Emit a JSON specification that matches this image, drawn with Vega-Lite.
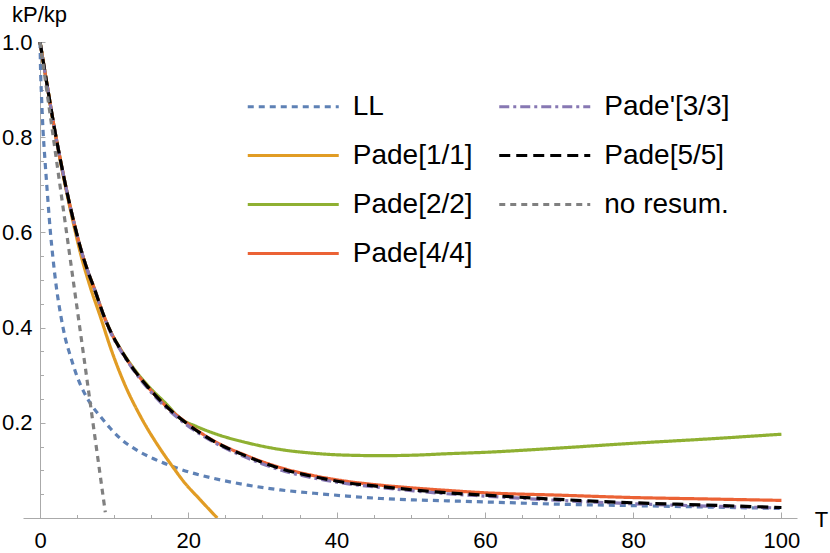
{
  "$schema": "https://vega.github.io/schema/vega-lite/v6.json",
  "width": 774,
  "height": 476,
  "autosize": {"type": "none"},
  "padding": {"left": 23, "top": 42, "right": 33, "bottom": 35},
  "background": "white",
  "data": {
    "values": [
      {"series": "LL", "T": 0, "v": 1},
      {"series": "LL", "T": 0.05, "v": 0.955},
      {"series": "LL", "T": 0.2, "v": 0.885},
      {"series": "LL", "T": 0.4, "v": 0.815},
      {"series": "LL", "T": 0.65, "v": 0.755},
      {"series": "LL", "T": 1.0, "v": 0.68},
      {"series": "LL", "T": 1.4, "v": 0.6},
      {"series": "LL", "T": 1.75, "v": 0.545},
      {"series": "LL", "T": 2.1, "v": 0.497},
      {"series": "LL", "T": 2.8, "v": 0.425},
      {"series": "LL", "T": 3.4, "v": 0.378},
      {"series": "LL", "T": 4.1, "v": 0.34},
      {"series": "LL", "T": 5.0, "v": 0.297},
      {"series": "LL", "T": 5.9, "v": 0.265},
      {"series": "LL", "T": 7.0, "v": 0.236},
      {"series": "LL", "T": 8.2, "v": 0.212},
      {"series": "LL", "T": 9.5, "v": 0.188},
      {"series": "LL", "T": 10.9, "v": 0.166},
      {"series": "LL", "T": 13, "v": 0.143},
      {"series": "LL", "T": 15.4, "v": 0.124},
      {"series": "LL", "T": 19, "v": 0.102},
      {"series": "LL", "T": 23.5, "v": 0.083},
      {"series": "LL", "T": 28, "v": 0.069},
      {"series": "LL", "T": 32.4, "v": 0.059},
      {"series": "LL", "T": 37, "v": 0.052},
      {"series": "LL", "T": 41.4, "v": 0.046},
      {"series": "LL", "T": 46, "v": 0.041},
      {"series": "LL", "T": 50.4, "v": 0.038},
      {"series": "LL", "T": 55, "v": 0.036},
      {"series": "LL", "T": 61.6, "v": 0.033},
      {"series": "LL", "T": 70, "v": 0.029},
      {"series": "LL", "T": 80, "v": 0.026},
      {"series": "LL", "T": 90, "v": 0.023},
      {"series": "LL", "T": 100, "v": 0.02},

      {"series": "Pade[1/1]", "T": 0, "v": 1},
      {"series": "Pade[1/1]", "T": 1, "v": 0.905},
      {"series": "Pade[1/1]", "T": 1.9, "v": 0.82},
      {"series": "Pade[1/1]", "T": 2.8, "v": 0.745},
      {"series": "Pade[1/1]", "T": 3.7, "v": 0.676},
      {"series": "Pade[1/1]", "T": 4.6, "v": 0.612},
      {"series": "Pade[1/1]", "T": 5.5, "v": 0.553},
      {"series": "Pade[1/1]", "T": 6.8, "v": 0.484},
      {"series": "Pade[1/1]", "T": 8.2, "v": 0.42},
      {"series": "Pade[1/1]", "T": 9.5, "v": 0.358},
      {"series": "Pade[1/1]", "T": 11.3, "v": 0.285},
      {"series": "Pade[1/1]", "T": 13.6, "v": 0.212},
      {"series": "Pade[1/1]", "T": 16.3, "v": 0.143},
      {"series": "Pade[1/1]", "T": 18.06, "v": 0.104},
      {"series": "Pade[1/1]", "T": 19.4, "v": 0.076},
      {"series": "Pade[1/1]", "T": 21.5, "v": 0.04},
      {"series": "Pade[1/1]", "T": 23.9, "v": 0.0},

      {"series": "Pade[2/2]", "T": 0, "v": 1},
      {"series": "Pade[2/2]", "T": 1, "v": 0.905},
      {"series": "Pade[2/2]", "T": 1.9, "v": 0.822},
      {"series": "Pade[2/2]", "T": 2.8, "v": 0.748},
      {"series": "Pade[2/2]", "T": 3.7, "v": 0.68},
      {"series": "Pade[2/2]", "T": 4.6, "v": 0.619},
      {"series": "Pade[2/2]", "T": 5.5, "v": 0.565},
      {"series": "Pade[2/2]", "T": 6.5, "v": 0.516},
      {"series": "Pade[2/2]", "T": 7.3, "v": 0.483},
      {"series": "Pade[2/2]", "T": 8.6, "v": 0.425},
      {"series": "Pade[2/2]", "T": 9.7, "v": 0.386},
      {"series": "Pade[2/2]", "T": 10.9, "v": 0.354},
      {"series": "Pade[2/2]", "T": 12.5, "v": 0.317},
      {"series": "Pade[2/2]", "T": 14.5, "v": 0.279},
      {"series": "Pade[2/2]", "T": 17, "v": 0.24},
      {"series": "Pade[2/2]", "T": 19, "v": 0.208},
      {"series": "Pade[2/2]", "T": 21, "v": 0.193},
      {"series": "Pade[2/2]", "T": 23.45, "v": 0.178},
      {"series": "Pade[2/2]", "T": 27.95, "v": 0.158},
      {"series": "Pade[2/2]", "T": 32.4, "v": 0.144},
      {"series": "Pade[2/2]", "T": 36.9, "v": 0.136},
      {"series": "Pade[2/2]", "T": 41.4, "v": 0.132},
      {"series": "Pade[2/2]", "T": 45.9, "v": 0.131},
      {"series": "Pade[2/2]", "T": 50.4, "v": 0.132},
      {"series": "Pade[2/2]", "T": 54.9, "v": 0.135},
      {"series": "Pade[2/2]", "T": 60, "v": 0.138},
      {"series": "Pade[2/2]", "T": 70, "v": 0.147},
      {"series": "Pade[2/2]", "T": 80, "v": 0.157},
      {"series": "Pade[2/2]", "T": 90, "v": 0.166},
      {"series": "Pade[2/2]", "T": 100, "v": 0.176},

      {"series": "Pade[4/4]", "T": 0, "v": 1},
      {"series": "Pade[4/4]", "T": 1, "v": 0.905},
      {"series": "Pade[4/4]", "T": 1.9, "v": 0.822},
      {"series": "Pade[4/4]", "T": 2.8, "v": 0.748},
      {"series": "Pade[4/4]", "T": 3.7, "v": 0.68},
      {"series": "Pade[4/4]", "T": 4.6, "v": 0.619},
      {"series": "Pade[4/4]", "T": 5.5, "v": 0.565},
      {"series": "Pade[4/4]", "T": 6.5, "v": 0.516},
      {"series": "Pade[4/4]", "T": 7.3, "v": 0.483},
      {"series": "Pade[4/4]", "T": 8.6, "v": 0.425},
      {"series": "Pade[4/4]", "T": 9.7, "v": 0.386},
      {"series": "Pade[4/4]", "T": 10.9, "v": 0.353},
      {"series": "Pade[4/4]", "T": 12.5, "v": 0.315},
      {"series": "Pade[4/4]", "T": 14.5, "v": 0.276},
      {"series": "Pade[4/4]", "T": 17, "v": 0.235},
      {"series": "Pade[4/4]", "T": 19.5, "v": 0.203},
      {"series": "Pade[4/4]", "T": 23.45, "v": 0.162},
      {"series": "Pade[4/4]", "T": 28, "v": 0.13},
      {"series": "Pade[4/4]", "T": 32.4, "v": 0.106},
      {"series": "Pade[4/4]", "T": 36.9, "v": 0.089},
      {"series": "Pade[4/4]", "T": 41.4, "v": 0.077},
      {"series": "Pade[4/4]", "T": 45.9, "v": 0.069},
      {"series": "Pade[4/4]", "T": 50.4, "v": 0.063},
      {"series": "Pade[4/4]", "T": 54.9, "v": 0.058},
      {"series": "Pade[4/4]", "T": 60, "v": 0.053},
      {"series": "Pade[4/4]", "T": 70, "v": 0.048},
      {"series": "Pade[4/4]", "T": 80, "v": 0.043},
      {"series": "Pade[4/4]", "T": 90, "v": 0.04},
      {"series": "Pade[4/4]", "T": 100, "v": 0.037},

      {"series": "Pade'[3/3]", "T": 0, "v": 1},
      {"series": "Pade'[3/3]", "T": 1, "v": 0.905},
      {"series": "Pade'[3/3]", "T": 1.9, "v": 0.822},
      {"series": "Pade'[3/3]", "T": 2.8, "v": 0.748},
      {"series": "Pade'[3/3]", "T": 3.7, "v": 0.68},
      {"series": "Pade'[3/3]", "T": 4.6, "v": 0.619},
      {"series": "Pade'[3/3]", "T": 5.5, "v": 0.565},
      {"series": "Pade'[3/3]", "T": 6.5, "v": 0.516},
      {"series": "Pade'[3/3]", "T": 7.3, "v": 0.483},
      {"series": "Pade'[3/3]", "T": 8.6, "v": 0.424},
      {"series": "Pade'[3/3]", "T": 9.7, "v": 0.384},
      {"series": "Pade'[3/3]", "T": 10.9, "v": 0.351},
      {"series": "Pade'[3/3]", "T": 12.5, "v": 0.313},
      {"series": "Pade'[3/3]", "T": 14.5, "v": 0.273},
      {"series": "Pade'[3/3]", "T": 17, "v": 0.232},
      {"series": "Pade'[3/3]", "T": 19.5, "v": 0.199},
      {"series": "Pade'[3/3]", "T": 23.45, "v": 0.159},
      {"series": "Pade'[3/3]", "T": 28, "v": 0.126},
      {"series": "Pade'[3/3]", "T": 32.4, "v": 0.101},
      {"series": "Pade'[3/3]", "T": 36.9, "v": 0.084},
      {"series": "Pade'[3/3]", "T": 41.4, "v": 0.072},
      {"series": "Pade'[3/3]", "T": 45.9, "v": 0.064},
      {"series": "Pade'[3/3]", "T": 50.4, "v": 0.057},
      {"series": "Pade'[3/3]", "T": 54.9, "v": 0.051},
      {"series": "Pade'[3/3]", "T": 60, "v": 0.046},
      {"series": "Pade'[3/3]", "T": 70, "v": 0.037},
      {"series": "Pade'[3/3]", "T": 80, "v": 0.03},
      {"series": "Pade'[3/3]", "T": 90, "v": 0.025},
      {"series": "Pade'[3/3]", "T": 100, "v": 0.021},

      {"series": "Pade[5/5]", "T": 0, "v": 1},
      {"series": "Pade[5/5]", "T": 1, "v": 0.905},
      {"series": "Pade[5/5]", "T": 1.9, "v": 0.822},
      {"series": "Pade[5/5]", "T": 2.8, "v": 0.748},
      {"series": "Pade[5/5]", "T": 3.7, "v": 0.68},
      {"series": "Pade[5/5]", "T": 4.6, "v": 0.619},
      {"series": "Pade[5/5]", "T": 5.5, "v": 0.565},
      {"series": "Pade[5/5]", "T": 6.5, "v": 0.516},
      {"series": "Pade[5/5]", "T": 7.3, "v": 0.483},
      {"series": "Pade[5/5]", "T": 8.6, "v": 0.425},
      {"series": "Pade[5/5]", "T": 9.7, "v": 0.386},
      {"series": "Pade[5/5]", "T": 10.9, "v": 0.353},
      {"series": "Pade[5/5]", "T": 12.5, "v": 0.315},
      {"series": "Pade[5/5]", "T": 14.5, "v": 0.276},
      {"series": "Pade[5/5]", "T": 17, "v": 0.235},
      {"series": "Pade[5/5]", "T": 19.5, "v": 0.202},
      {"series": "Pade[5/5]", "T": 23.45, "v": 0.161},
      {"series": "Pade[5/5]", "T": 28, "v": 0.129},
      {"series": "Pade[5/5]", "T": 32.4, "v": 0.104},
      {"series": "Pade[5/5]", "T": 36.9, "v": 0.087},
      {"series": "Pade[5/5]", "T": 41.4, "v": 0.074},
      {"series": "Pade[5/5]", "T": 45.9, "v": 0.066},
      {"series": "Pade[5/5]", "T": 50.4, "v": 0.059},
      {"series": "Pade[5/5]", "T": 54.9, "v": 0.053},
      {"series": "Pade[5/5]", "T": 60, "v": 0.048},
      {"series": "Pade[5/5]", "T": 70, "v": 0.039},
      {"series": "Pade[5/5]", "T": 80, "v": 0.032},
      {"series": "Pade[5/5]", "T": 90, "v": 0.027},
      {"series": "Pade[5/5]", "T": 100, "v": 0.022},

      {"series": "no resum.", "T": 0, "v": 1},
      {"series": "no resum.", "T": 3, "v": 0.664},
      {"series": "no resum.", "T": 6, "v": 0.328},
      {"series": "no resum.", "T": 8.8, "v": 0.012}
    ]
  },
  "layer": [
    {
      "mark": {"type": "line", "strokeWidth": 3.2, "strokeCap": "butt", "interpolate": "monotone", "clip": true},
      "encoding": {
        "x": {
          "field": "T",
          "type": "quantitative",
          "scale": {"domain": [-2.3, 102.1], "nice": false, "zero": false},
          "axis": {
            "orient": "bottom",
            "values": [0, 20, 40, 60, 80, 100],
            "tickSize": -6,
            "labelPadding": 18,
            "title": "T",
            "titleX": 798,
            "titleY": 1,
            "titleAlign": "center",
            "titleBaseline": "middle",
            "titleAngle": 0
          }
        },
        "y": {
          "field": "v",
          "type": "quantitative",
          "scale": {"domain": [0, 1], "nice": false},
          "axis": {
            "orient": "left",
            "offset": -17,
            "values": [0.2, 0.4, 0.6, 0.8, 1.0],
            "format": ".1f",
            "tickSize": -5,
            "labelPadding": 13,
            "title": "kP/kp",
            "titleX": -1,
            "titleY": -21,
            "titleAlign": "center",
            "titleBaseline": "alphabetic",
            "titleAngle": 0
          }
        },
        "color": {
          "field": "series",
          "type": "nominal",
          "scale": {
            "domain": ["LL", "Pade[1/1]", "Pade[2/2]", "Pade[4/4]", "Pade'[3/3]", "Pade[5/5]", "no resum."],
            "range": ["#5E81B5", "#E19C24", "#8FB032", "#EB6235", "#8778B3", "#000000", "#808080"]
          },
          "legend": {
            "title": null,
            "orient": "none",
            "legendX": 245.75,
            "legendY": 40,
            "columns": 2,
            "columnPadding": 19.5,
            "rowPadding": 10,
            "padding": 0,
            "symbolType": "M-2,0H2",
            "symbolSize": 2070,
            "symbolStrokeWidth": 3.2,
            "labelOffset": 35,
            "labelFontSize": 28,
            "labelFont": "Liberation Sans",
            "labelColor": "black"
          }
        },
        "strokeDash": {
          "field": "series",
          "type": "nominal",
          "scale": {
            "domain": ["LL", "Pade[1/1]", "Pade[2/2]", "Pade[4/4]", "Pade'[3/3]", "Pade[5/5]", "no resum."],
            "range": [[6, 5], [1, 0], [1, 0], [1, 0], [10, 4, 3, 4], [11, 6], [6, 5]]
          },
          "legend": null
        }
      }
    },
    {
      "mark": {"type": "point", "opacity": 0},
      "encoding": {
        "x": {
          "field": "T",
          "type": "quantitative",
          "axis": {
            "orient": "bottom",
            "values": [5, 10, 15, 25, 30, 35, 45, 50, 55, 65, 70, 75, 85, 90, 95],
            "labels": false,
            "domain": false,
            "tickSize": -3.5,
            "title": null
          }
        },
        "y": {
          "field": "v",
          "type": "quantitative",
          "axis": {
            "orient": "left",
            "offset": -17,
            "values": [0.05, 0.1, 0.15, 0.25, 0.3, 0.35, 0.45, 0.5, 0.55, 0.65, 0.7, 0.75, 0.85, 0.9, 0.95],
            "labels": false,
            "domain": false,
            "tickSize": -3.5,
            "title": null
          }
        }
      }
    }
  ],
  "resolve": {"axis": {"x": "independent", "y": "independent"}},
  "config": {
    "view": {"stroke": null},
    "axis": {
      "grid": false,
      "domainColor": "#AAAAAA",
      "domainWidth": 1,
      "tickColor": "#AAAAAA",
      "tickWidth": 1,
      "labelFont": "Liberation Sans",
      "labelFontSize": 22,
      "labelColor": "black",
      "titleFont": "Liberation Sans",
      "titleFontSize": 22,
      "titleFontWeight": "normal",
      "titleColor": "black"
    }
  }
}
